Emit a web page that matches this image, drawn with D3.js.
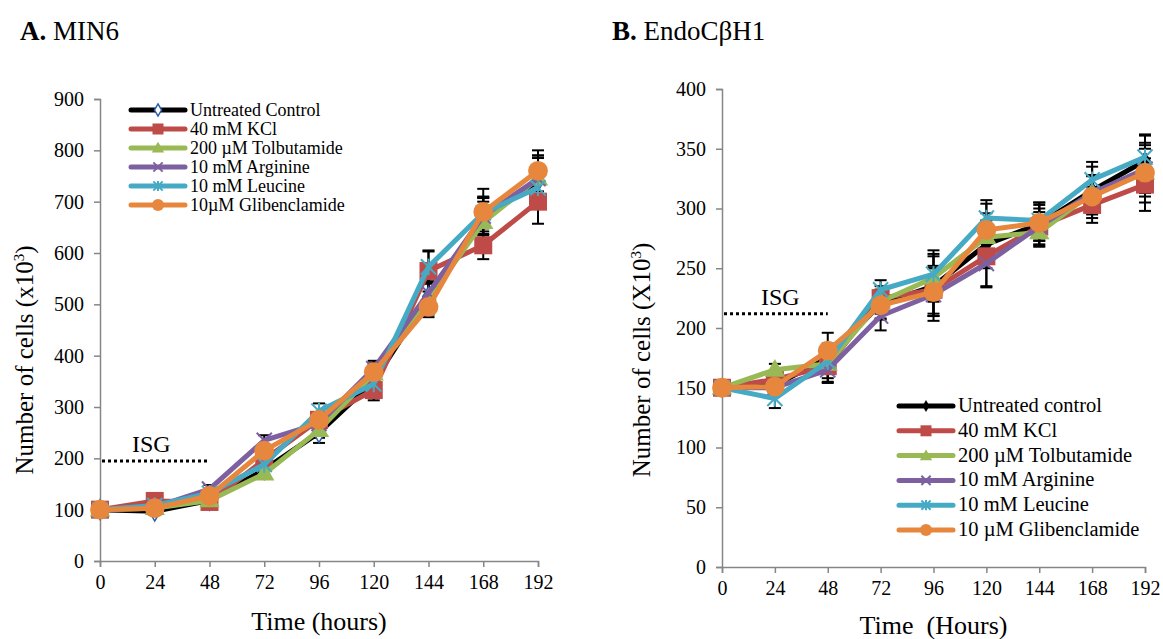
<!DOCTYPE html>
<html><head><meta charset="utf-8">
<script src="https://cdn.jsdelivr.net/npm/d3@7"></script>
<style>body{margin:0;background:#fff}svg text{font-family:"Liberation Serif","Times New Roman",serif !important;fill:#000}</style>
</head><body>
<script>
const times = [0, 24, 48, 72, 96, 120, 144, 168, 192];
const seriesNames = ["Untreated Control", "40 mM KCl", "200 µM Tolbutamide", "10 mM Arginine", "10 mM Leucine", "10µM Glibenclamide"];
const seriesNamesB = ["Untreated control", "40 mM KCl", "200 µM Tolbutamide", "10 mM Arginine", "10 mM Leucine", "10 µM Glibenclamide"];
const colors = ["#000000", "#BE4B48", "#98B954", "#7D60A0", "#46AAC5", "#E6873D"];
const markers = ["diamond", "square", "triangle", "x", "star", "circle"];

// Panel A: MIN6
const ctrlA = [100, 97, 118, 178, 250, 350, 515, 670, 740];
const kclA  = [100, 117, 115, 197, 275, 333, 565, 615, 700];
const tolbA = [100, 103, 118, 170, 255, 365, 510, 660, 745];
const argA  = [100, 105, 140, 235, 268, 375, 522, 672, 745];
const leuA  = [100, 108, 132, 188, 292, 345, 573, 678, 727];
const glibA = [100, 103, 127, 215, 275, 368, 495, 680, 760];
const ctrlAErr = [3, 3, 5, 10, 20, 25, 30, 40, 50];
const kclAErr  = [3, 5, 6, 10, 15, 20, 40, 27, 43];
const tolbAErr = [3, 3, 5, 8, 15, 20, 30, 40, 45];
const argAErr  = [3, 5, 8, 10, 15, 15, 30, 35, 40];
const leuAErr  = [3, 5, 8, 10, 15, 15, 30, 30, 35];
const glibAErr = [3, 3, 5, 10, 15, 15, 20, 45, 40];
const yTicksA = [0, 100, 200, 300, 400, 500, 600, 700, 800, 900];

// Panel B: EndoCβH1
const ctrlB = [150, 152, 175, 220, 235, 270, 287, 315, 340];
const kclB  = [150, 157, 168, 225, 232, 260, 285, 303, 320];
const tolbB = [150, 165, 170, 222, 242, 276, 280, 313, 330];
const argB  = [150, 150, 165, 210, 228, 254, 285, 313, 333];
const leuB  = [150, 141, 172, 232, 245, 292, 290, 324, 343];
const glibB = [150, 151, 181, 219, 230, 282, 288, 310, 330];
const ctrlBErr = [3, 6, 12, 12, 25, 20, 18, 20, 22];
const kclBErr  = [3, 5, 14, 10, 20, 25, 15, 15, 22];
const tolbBErr = [3, 5, 12, 10, 20, 20, 12, 15, 20];
const argBErr  = [3, 5, 10, 12, 22, 20, 12, 14, 20];
const leuBErr  = [3, 8, 10, 8, 20, 15, 15, 15, 18];
const glibBErr = [3, 5, 15, 12, 20, 22, 15, 18, 25];
const yTicksB = [0, 50, 100, 150, 200, 250, 300, 350, 400];

const isgA = {label: "ISG", from: 0, to: 48, level: 195};
const isgB = {label: "ISG", from: 0, to: 48, level: 212};

const FONT = "Liberation Serif";
const svg = d3.select("body").append("svg").attr("width", 1163).attr("height", 639);

function drawMarker(g, type, color, x, y, s, legendA) {
  if (type === "circle") {
    g.append("circle").attr("cx", x).attr("cy", y).attr("r", s * 0.55).attr("fill", color);
  } else if (type === "square") {
    g.append("path").attr("d", d3.symbol(d3.symbolSquare, s * s)()).attr("transform", `translate(${x},${y})`).attr("fill", color);
  } else if (type === "triangle") {
    g.append("path").attr("d", d3.symbol(d3.symbolTriangle, s * s * 0.55)()).attr("transform", `translate(${x},${y + 1})`).attr("fill", color);
  } else if (type === "diamond") {
    const p = g.append("path").attr("d", d3.symbol(d3.symbolDiamond, s * s * 0.35)()).attr("transform", `translate(${x},${y})`);
    if (legendA) p.attr("fill", "#fff").attr("stroke", "#2A5CA8").attr("stroke-width", 1.5);
    else p.attr("fill", color);
  } else if (type === "x" || type === "star") {
    const h = s * 0.42;
    g.append("line").attr("x1", x - h).attr("y1", y - h).attr("x2", x + h).attr("y2", y + h).attr("stroke", color).attr("stroke-width", 2);
    g.append("line").attr("x1", x - h).attr("y1", y + h).attr("x2", x + h).attr("y2", y - h).attr("stroke", color).attr("stroke-width", 2);
    if (type === "star") g.append("line").attr("x1", x).attr("y1", y - h * 1.1).attr("x2", x).attr("y2", y + h * 1.1).attr("stroke", color).attr("stroke-width", 2);
  }
}

function panel(cfg) {
  const x = d3.scaleLinear().domain([0, 192]).range(cfg.xr);
  const y = d3.scaleLinear().domain([0, cfg.ymax]).range(cfg.yr);
  const g = svg.append("g").attr("font-family", FONT);

  const yAxis = d3.axisLeft(y).tickValues(cfg.yTicks).tickSize(6).tickPadding(10);
  const gy = g.append("g").attr("transform", `translate(${cfg.xr[0]},0)`).call(yAxis);
  const xAxis = d3.axisBottom(x).tickValues(times).tickSize(6).tickPadding(8);
  const gx = g.append("g").attr("transform", `translate(0,${cfg.yr[0]})`).call(xAxis);
  [gx, gy].forEach(a => {
    a.attr("font-family", FONT);
    a.select(".domain").attr("stroke", "#868686").attr("stroke-width", 1.5);
    a.selectAll(".tick line").attr("stroke", "#868686").attr("stroke-width", 1.5);
    a.selectAll(".tick text").attr("font-family", FONT).attr("font-size", 20).attr("fill", "#000");
  });

  // ISG
  g.append("line").attr("x1", x(cfg.isg.from) + 2).attr("x2", x(cfg.isg.to)).attr("y1", y(cfg.isg.level)).attr("y2", y(cfg.isg.level))
    .attr("stroke", "#000").attr("stroke-width", 3).attr("stroke-dasharray", "3,3");
  g.append("text").attr("x", cfg.isgTextX).attr("y", y(cfg.isg.level) - 9).attr("font-family", FONT).attr("font-size", 24).text(cfg.isg.label);

  // error bars
  const eg = g.append("g");
  cfg.series.forEach((vals, si) => {
    vals.forEach((v, i) => {
      const e = cfg.errs[si][i];
      const cx = x(times[i]);
      eg.append("line").attr("x1", cx).attr("x2", cx).attr("y1", y(v - e)).attr("y2", y(v + e)).attr("stroke", "#000").attr("stroke-width", 2);
      [v - e, v + e].forEach(t => eg.append("line").attr("x1", cx - 6).attr("x2", cx + 6).attr("y1", y(t)).attr("y2", y(t)).attr("stroke", "#000").attr("stroke-width", 2));
    });
  });

  // lines and markers
  const line = d3.line().x((d, i) => x(times[i])).y(d => y(d));
  cfg.series.forEach((vals, si) => {
    const sg = g.append("g");
    sg.append("path").attr("d", line(vals)).attr("fill", "none").attr("stroke", colors[si]).attr("stroke-width", 5).attr("stroke-linejoin", "round");
    vals.forEach((v, i) => drawMarker(sg, markers[si], colors[si], x(times[i]), y(v), 18, cfg.legendA));
  });

  // legend
  const lg = g.append("g");
  cfg.names.forEach((n, si) => {
    const ly = cfg.legY + si * cfg.legStep;
    lg.append("line").attr("x1", cfg.legX).attr("x2", cfg.legX + 54).attr("y1", ly).attr("y2", ly)
      .attr("stroke", colors[si]).attr("stroke-width", 5).attr("stroke-linecap", "round");
    drawMarker(lg, markers[si], colors[si], cfg.legX + 27, ly, 11, cfg.legendA);
    lg.append("text").attr("x", cfg.legX + 59).attr("y", ly + 6).attr("font-family", FONT).attr("font-size", cfg.legFont).text(n);
  });

  // axis titles
  g.append("text").attr("x", (cfg.xr[0] + cfg.xr[1]) / 2).attr("y", cfg.xTitleY).attr("text-anchor", "middle")
    .attr("font-family", FONT).attr("font-size", 26).attr("xml:space", "preserve").text(cfg.xTitle);
  const yt = g.append("text").attr("transform", `translate(${cfg.yTitleX},${cfg.yTitleY}) rotate(-90)`)
    .attr("text-anchor", "middle").attr("font-family", FONT).attr("font-size", 25);
  yt.append("tspan").attr("font-family", FONT).text(cfg.yTitle);
  yt.append("tspan").attr("font-family", FONT).attr("font-size", 15).attr("dy", -9).text("3");
  yt.append("tspan").attr("font-family", FONT).attr("dy", 9).text(")");

  const pt = svg.append("text").attr("x", cfg.titleX).attr("y", 40).attr("font-family", FONT).attr("font-size", 27);
  pt.append("tspan").attr("font-weight", "bold").text(cfg.titleBold);
  pt.append("tspan").text(cfg.title);
}

panel({
  xr: [100, 538], yr: [561, 99], ymax: 900, yTicks: yTicksA,
  series: [ctrlA, kclA, tolbA, argA, leuA, glibA],
  errs: [ctrlAErr, kclAErr, tolbAErr, argAErr, leuAErr, glibAErr],
  isg: isgA, isgTextX: 132, names: seriesNames, legendA: true,
  legX: 131, legY: 110, legStep: 19, legFont: 18,
  xTitle: "Time (hours)", xTitleY: 630, yTitle: "Number of cells (x10", yTitleX: 33, yTitleY: 360,
  titleX: 20, titleBold: "A.", title: " MIN6"
});
panel({
  xr: [722, 1145], yr: [567, 89], ymax: 400, yTicks: yTicksB,
  series: [ctrlB, kclB, tolbB, argB, leuB, glibB],
  errs: [ctrlBErr, kclBErr, tolbBErr, argBErr, leuBErr, glibBErr],
  isg: isgB, isgTextX: 761, names: seriesNamesB, legendA: false,
  legX: 899, legY: 406, legStep: 24.8, legFont: 20.5,
  xTitle: "Time  (Hours)", xTitleY: 634, yTitle: "Number of cells (X10", yTitleX: 650, yTitleY: 360,
  titleX: 612, titleBold: "B.", title: " EndoCβH1"
});
</script>
</body></html>
